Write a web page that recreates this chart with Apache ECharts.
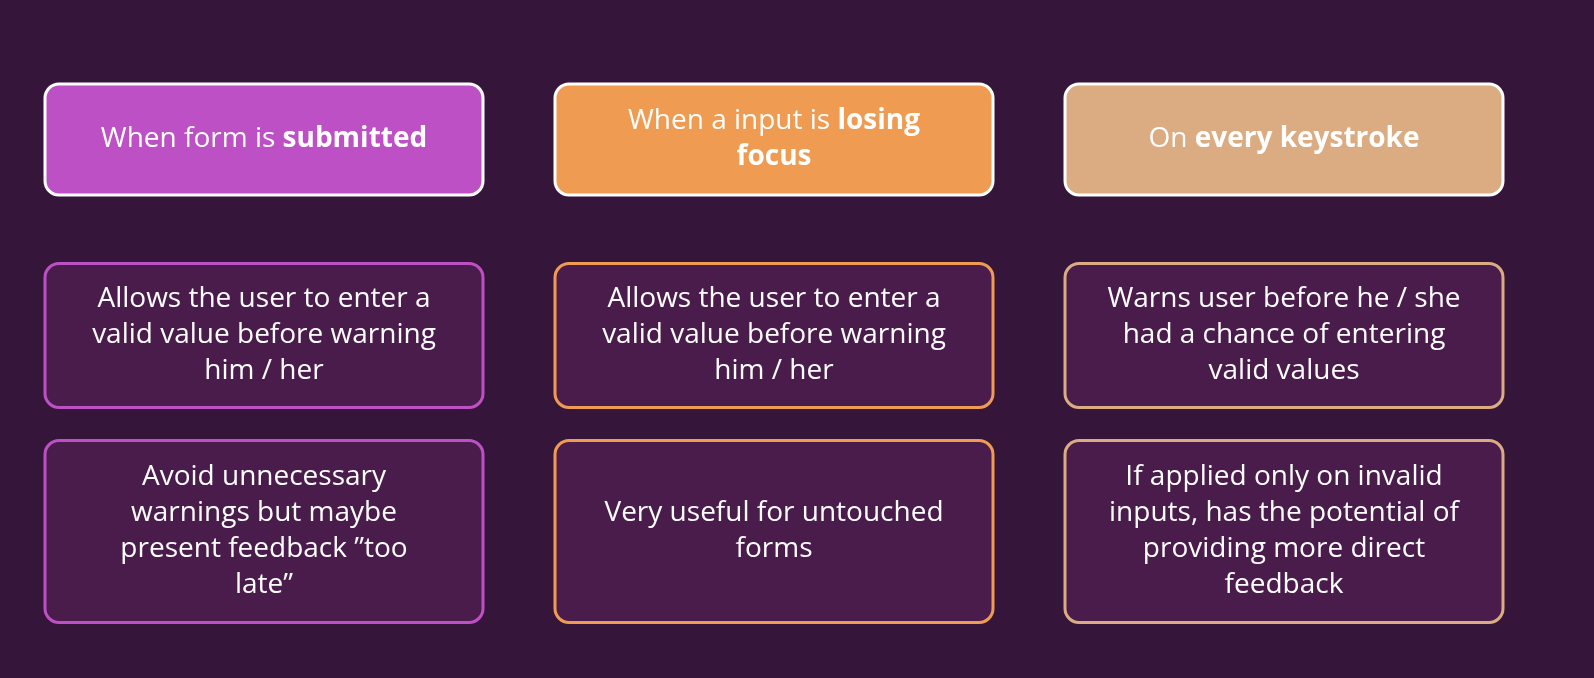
<!DOCTYPE html>
<html>
<head>
<meta charset="utf-8">
<script src="https://cdn.jsdelivr.net/npm/echarts@6/dist/echarts.min.js"></script>
<style>
  html, body { margin: 0; padding: 0; background: #36153a; }
  #chart { width: 1594px; height: 678px; }
</style>
</head>
<body>
<div id="chart"></div>
<script>
// columns and rows of the card grid
const columns = ['submitted', 'blur', 'keystroke'];
const rows = ['header', 'pro', 'con'];

// card texts, {b|...} marks bold parts
const headerTexts = [
  '{n|When form is }{b|submitted}',
  '{n|When a input is }{b|losing}\n{b|focus}',
  '{n|On }{b|every keystroke}'
];
const proTexts = [
  'Allows the user to enter a\nvalid value before warning\nhim / her',
  'Allows the user to enter a\nvalid value before warning\nhim / her',
  'Warns user before he / she\nhad a chance of entering\nvalid values'
];
const conTexts = [
  'Avoid unnecessary\nwarnings but maybe\npresent feedback \u201dtoo\nlate\u201d',
  'Very useful for untouched\nforms',
  'If applied only on invalid\ninputs, has the potential of\nproviding more direct\nfeedback'
];

const colColours = ['#bc50c4', '#ef9b52', '#dbab82'];
const rowHeights = { header: 111, pro: 144, con: 182 };
const cardWidth = 438;
const FONT = '"Open Sans", sans-serif';

const cells = [];
columns.forEach((c, i) => {
  cells.push([i, 0, headerTexts[i]]);
  cells.push([i, 1, proTexts[i]]);
  cells.push([i, 2, conTexts[i]]);
});

function renderCard(params, api) {
  const ci = api.value(0);
  const ri = api.value(1);
  const text = cells[params.dataIndex][2];
  const centre = api.coord([ci, ri]);
  const h = rowHeights[rows[ri]];
  const isHeader = ri === 0;
  return {
    type: 'group',
    children: [
      {
        type: 'rect',
        shape: { x: centre[0] - cardWidth / 2, y: centre[1] - h / 2, width: cardWidth, height: h, r: 14 },
        style: {
          fill: isHeader ? colColours[ci] : '#4a1c4c',
          stroke: isHeader ? '#ffffff' : colColours[ci],
          lineWidth: 3
        }
      },
      {
        type: 'text',
        x: centre[0],
        y: centre[1],
        style: isHeader ? {
          text: text,
          align: 'center',
          verticalAlign: 'middle',
          rich: {
            n: { fill: '#ffffff', fontSize: 28, fontFamily: FONT, lineHeight: 36 },
            b: { fill: '#ffffff', fontSize: 28, fontFamily: FONT, fontWeight: 'bold', lineHeight: 36 }
          }
        } : {
          text: text,
          align: 'center',
          verticalAlign: 'middle',
          fill: '#ffffff',
          font: '28px ' + FONT,
          lineHeight: 36
        }
      }
    ]
  };
}

const chart = echarts.init(document.getElementById('chart'));
chart.setOption({
  backgroundColor: '#36153a',
  animation: false,
  grid: { left: 9, right: 55, top: 41.5, bottom: 48.5 },
  xAxis: { type: 'category', data: columns, show: false },
  yAxis: { type: 'category', data: rows, inverse: true, show: false },
  series: [{
    type: 'custom',
    renderItem: renderCard,
    data: cells.map(d => [d[0], d[1]])
  }]
});
</script>
</body>
</html>
